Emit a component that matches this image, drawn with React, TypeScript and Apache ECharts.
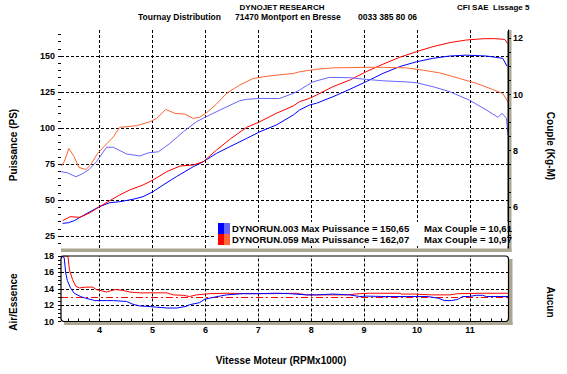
import React, { useEffect, useRef } from "react";
import * as echarts from "echarts";

// ---------- DATA ----------
const rpmP003 = [3.3, 3.41, 3.53, 3.63, 3.82, 4.0, 4.19, 4.38, 4.63, 4.82, 5.01, 5.2, 5.45, 5.77, 5.96, 6.21, 6.46, 6.78, 7.03, 7.34, 7.66, 7.78, 7.97, 8.1, 8.41, 8.73, 9.04, 9.36, 9.67, 9.99, 10.3, 10.62, 10.93, 11.31, 11.62, 11.7];
const ps003 = [33.8, 34.2, 35.8, 38, 41.9, 45.4, 48.1, 48.8, 50.5, 52.3, 55.8, 60.4, 66.2, 73.1, 76.6, 82.4, 87, 92.8, 97.4, 102.1, 109, 112.5, 116, 117.2, 121.7, 126.9, 132.2, 138, 142.6, 146, 148.4, 150, 150.6, 150, 148.4, 143];

const rpmP059 = [3.3, 3.44, 3.63, 3.82, 4.0, 4.19, 4.38, 4.57, 4.82, 5.01, 5.27, 5.52, 5.77, 5.96, 6.21, 6.46, 6.78, 7.03, 7.34, 7.66, 7.78, 7.97, 8.1, 8.41, 8.73, 9.04, 9.36, 9.67, 9.99, 10.3, 10.62, 10.93, 11.25, 11.47, 11.66, 11.71];
const ps059 = [35.6, 38.4, 38, 41.2, 45.4, 49.5, 53.5, 57, 60.4, 63.9, 69.7, 73.6, 74.3, 76.6, 84.7, 92.1, 100.5, 104.4, 110.2, 115.3, 118.3, 120.6, 122.9, 128.7, 133.3, 139.1, 144.4, 149.1, 153, 156.5, 159.3, 161.1, 162, 162.07, 161.5, 158.8];

const rpmT003 = [3.27, 3.39, 3.55, 3.67, 3.8, 3.94, 4.13, 4.26, 4.51, 4.76, 4.92, 5.11, 5.33, 5.58, 5.83, 6.08, 6.4, 6.65, 6.78, 7.03, 7.4, 7.66, 7.78, 8.03, 8.34, 8.73, 9.04, 9.36, 9.8, 9.99, 10.3, 10.62, 10.99, 11.31, 11.53, 11.61, 11.69, 11.72];
const tq003 = [7.25, 7.21, 7.07, 7.17, 7.33, 7.6, 8.12, 8.12, 7.88, 7.81, 7.92, 7.96, 8.26, 8.67, 9.03, 9.27, 9.56, 9.78, 9.83, 9.86, 9.86, 10.04, 10.16, 10.45, 10.61, 10.6, 10.54, 10.49, 10.45, 10.42, 10.28, 10.1, 9.8, 9.45, 9.19, 9.33, 9.15, 8.55];

const rpmT059 = [3.27, 3.33, 3.42, 3.52, 3.61, 3.74, 3.83, 3.96, 4.08, 4.26, 4.38, 4.7, 4.95, 5.08, 5.25, 5.42, 5.61, 5.77, 5.89, 6.02, 6.21, 6.4, 6.65, 6.9, 7.09, 7.34, 7.66, 7.78, 8.1, 8.41, 9.04, 9.36, 9.8, 10.11, 10.43, 10.81, 11.12, 11.43, 11.62, 11.72];
const tq059 = [7.45, 7.6, 8.08, 7.78, 7.4, 7.33, 7.49, 7.9, 8.14, 8.49, 8.83, 8.89, 9.03, 9.15, 9.47, 9.33, 9.3, 9.15, 9.19, 9.35, 9.66, 10.04, 10.34, 10.57, 10.63, 10.69, 10.75, 10.81, 10.9, 10.95, 10.97, 10.97, 10.95, 10.87, 10.77, 10.57, 10.4, 10.18, 10.04, 9.74];

const rpmA003 = [3.27, 3.33, 3.36, 3.39, 3.45, 3.52, 3.64, 3.73, 3.86, 3.9, 4.13, 4.26, 4.51, 4.63, 4.76, 4.89, 5.08, 5.27, 5.46, 5.64, 5.7, 5.89, 5.98, 6.08, 6.27, 6.4, 6.71, 6.96, 7.34, 7.59, 7.91, 8.1, 8.41, 8.72, 8.92, 9.04, 9.4, 9.8, 10.2, 10.4, 10.52, 10.65, 10.77, 10.86, 10.99, 11.12, 11.24, 11.31, 11.72];
const afr003 = [18, 17.8, 15.9, 15.0, 14.1, 13.45, 13.05, 12.85, 12.65, 12.55, 12.55, 12.55, 12.45, 12.1, 11.9, 11.85, 11.75, 11.65, 11.65, 11.85, 12.05, 12.3, 12.7, 12.85, 13.1, 13.25, 13.4, 13.4, 13.45, 13.4, 13.25, 13.25, 13.35, 13.25, 13.05, 13.1, 13.05, 13.05, 13.05, 12.85, 12.55, 12.55, 12.7, 13.05, 13.05, 13.2, 13.2, 13.05, 13.05];

const rpmA059 = [3.27, 3.4, 3.43, 3.49, 3.55, 3.62, 3.74, 3.87, 3.94, 4.13, 4.29, 4.44, 4.57, 4.76, 4.95, 5.27, 5.39, 5.58, 5.7, 5.83, 6.08, 6.4, 6.84, 7.22, 7.72, 7.91, 8.35, 8.66, 8.92, 9.1, 9.3, 9.68, 9.71, 9.96, 10.27, 10.62, 10.77, 11.17, 11.72];
const afr059 = [18, 18, 16.3, 15.1, 14.3, 14.1, 14.2, 14.2, 13.9, 13.6, 13.9, 13.8, 13.6, 13.5, 13.5, 13.5, 13.25, 13.2, 13.05, 13.25, 13.4, 13.45, 13.4, 13.4, 13.45, 13.25, 13.25, 13.25, 13.4, 13.45, 13.45, 13.45, 13.35, 13.35, 13.25, 13.25, 13.4, 13.45, 13.45];

const afrTarget = 13;
const rpmGrid = [4, 5, 6, 7, 8, 9, 10, 11];
const psGrid = [25, 50, 75, 100, 125, 150];
const afrGrid = [12, 14, 16];

const runNames = ["DYNORUN.003", "DYNORUN.059"];
const maxPower = ["150,65", "162,07"];
const maxTorque = ["10,61", "10,97"];

const headerTitle = "DYNOJET RESEARCH";
const headerLine2 = ["Tournay Distribution", "71470 Montport en Bresse", "0033 385 80 06"];
const headerRight = "CFI SAE  Lissage 5";

// ---------- STYLE ----------
const FONT = '"Liberation Sans", Arial, sans-serif';
const BLUE = "#0000ff";
const LBLUE = "#6666ff";
const RED = "#ff0000";
const ORANGE = "#ff6633";
const GRAY = "#aba792";

const pairs = (xs: number[], ys: number[]) => xs.map((x, i) => [x, ys[i]]);
const isStep = (v: number, step: number) => {
  const r = Math.round(v / step) * step;
  return Math.abs(v - r) < 1e-6;
};

const dashed = { color: "#000", width: 1, type: [3, 2] as number[] };

export default function App() {
  const ref = useRef<HTMLDivElement>(null);
  useEffect(() => {
    if (!ref.current) return;
    const chart = echarts.init(ref.current, undefined, { renderer: "svg" });
    const labelStyle = { color: "#000", fontFamily: FONT, fontWeight: "bold" as const, fontSize: 9 };
    const txt = (text: string, x: number, y: number, size: number, align = "left", rotation = 0) => ({
      type: "text",
      x,
      y,
      rotation,
      z: 20,
      style: { text, font: `bold ${size}px ${FONT}`, fill: "#000", align, verticalAlign: "middle" },
    });

    const option: any = {
      animation: false,
      backgroundColor: "#fff",
      grid: [
        { left: 61, top: 30, width: 447, height: 218 },
        { left: 61, top: 256, width: 447, height: 65.5 },
      ],
      xAxis: [
        { type: "value", gridIndex: 0, min: 3.27, max: 11.72, show: false, splitLine: { show: false } },
        {
          type: "value",
          gridIndex: 1,
          min: 3.27,
          max: 11.72,
          minInterval: 0.2,
          maxInterval: 0.2,
          axisLine: { show: true, lineStyle: { color: "rgba(0,0,0,0)" } },
          axisTick: { show: true, inside: true, length: 3, lineStyle: { color: "#000" } },
          axisLabel: {
            ...labelStyle,
            margin: 4,
            showMinLabel: false,
            showMaxLabel: false,
            formatter: (v: number) => (isStep(v, 1) ? String(Math.round(v)) : ""),
          },
          splitLine: { show: false },
        },
      ],
      yAxis: [
        {
          type: "value",
          gridIndex: 0,
          min: 16.67,
          max: 168.06,
          minInterval: 5,
          maxInterval: 5,
          axisLine: { show: true, lineStyle: { color: "rgba(0,0,0,0)" } },
          axisTick: { show: true, length: 3, lineStyle: { color: "#000" } },
          axisLabel: {
            ...labelStyle,
            margin: 6,
            showMinLabel: false,
            showMaxLabel: false,
            formatter: (v: number) => (isStep(v, 25) ? String(Math.round(v)) : ""),
          },
          splitLine: { show: false },
        },
        {
          type: "value",
          gridIndex: 0,
          position: "right",
          min: 4.53,
          max: 12.3,
          minInterval: 0.5,
          maxInterval: 0.5,
          axisLine: { show: true, lineStyle: { color: "#000", width: 1 } },
          axisTick: { show: true, length: 3, lineStyle: { color: "#000" } },
          axisLabel: {
            ...labelStyle,
            margin: 5,
            showMinLabel: false,
            showMaxLabel: false,
            formatter: (v: number) => (isStep(v, 2) ? String(Math.round(v)) : ""),
          },
          splitLine: { show: false },
        },
        {
          type: "value",
          gridIndex: 1,
          min: 10,
          max: 18,
          interval: 0.5,
          axisLine: { show: true, lineStyle: { color: "rgba(0,0,0,0)" } },
          axisTick: { show: true, length: 3, lineStyle: { color: "#000" } },
          axisLabel: {
            ...labelStyle,
            margin: 7,
            formatter: (v: number) => (isStep(v, 2) ? String(Math.round(v)) : ""),
          },
          splitLine: { show: false },
        },
      ],
      series: [
        {
          type: "line",
          name: "Puissance 003",
          xAxisIndex: 0,
          yAxisIndex: 0,
          data: pairs(rpmP003, ps003),
          showSymbol: false,
          symbol: "none",
          lineStyle: { color: BLUE, width: 1 },
          z: 3,
          markLine: {
            z: 1,
            silent: true,
            symbol: ["none", "none"],
            label: { show: false },
            lineStyle: dashed,
            data: [...psGrid.map((v) => ({ yAxis: v })), ...rpmGrid.map((v) => ({ xAxis: v }))],
          },
        },
        {
          type: "line",
          name: "Puissance 059",
          xAxisIndex: 0,
          yAxisIndex: 0,
          data: pairs(rpmP059, ps059),
          symbol: "none",
          lineStyle: { color: RED, width: 1 },
          z: 3,
        },
        {
          type: "line",
          name: "Couple 003",
          xAxisIndex: 0,
          yAxisIndex: 1,
          data: pairs(rpmT003, tq003),
          symbol: "none",
          lineStyle: { color: LBLUE, width: 1 },
          z: 3,
        },
        {
          type: "line",
          name: "Couple 059",
          xAxisIndex: 0,
          yAxisIndex: 1,
          data: pairs(rpmT059, tq059),
          symbol: "none",
          lineStyle: { color: ORANGE, width: 1 },
          z: 3,
        },
        {
          type: "line",
          name: "AFR 003",
          xAxisIndex: 1,
          yAxisIndex: 2,
          data: pairs(rpmA003, afr003),
          symbol: "none",
          lineStyle: { color: BLUE, width: 1 },
          z: 4,
          markLine: {
            z: 1,
            silent: true,
            symbol: ["none", "none"],
            label: { show: false },
            lineStyle: dashed,
            data: [...afrGrid.map((v) => ({ yAxis: v })), ...rpmGrid.map((v) => ({ xAxis: v }))],
          },
        },
        {
          type: "line",
          name: "AFR 059",
          xAxisIndex: 1,
          yAxisIndex: 2,
          data: pairs(rpmA059, afr059),
          symbol: "none",
          lineStyle: { color: RED, width: 1 },
          z: 3,
          markLine: {
            z: 2,
            silent: true,
            symbol: ["none", "none"],
            label: { show: false },
            lineStyle: { color: RED, width: 1, type: [7, 3, 2, 3] },
            data: [{ yAxis: afrTarget }],
          },
        },
      ],
      graphic: [
        // panel frames
        { type: "rect", z: 0, shape: { x: 508.5, y: 30, width: 3, height: 222 }, style: { fill: GRAY } },
        { type: "rect", z: 0, shape: { x: 61, y: 248.5, width: 450.5, height: 3.5 }, style: { fill: GRAY } },
        { type: "line", z: 5, shape: { x1: 508, y1: 31, x2: 508, y2: 248.5 }, style: { stroke: "#000", lineWidth: 1 } },
        { type: "rect", z: 0, shape: { x: 509, y: 259, width: 3.5, height: 66 }, style: { fill: GRAY } },
        { type: "rect", z: 0, shape: { x: 64, y: 321.5, width: 448.5, height: 3.5 }, style: { fill: GRAY } },
        { type: "rect", z: 5, shape: { x: 61, y: 256, width: 447.5, height: 65.5, r: 3 }, style: { fill: "none", stroke: "#000", lineWidth: 1.2 } },
        // header
        txt(headerTitle, 282, 7, 8, "center"),
        txt(headerRight, 457, 7, 8, "left"),
        txt(headerLine2[0], 138, 17, 8.5, "left"),
        txt(headerLine2[1], 235, 17, 8.5, "left"),
        txt(headerLine2[2], 358, 17, 8.5, "left"),
        // axis titles
        txt("Puissance (PS)", 13, 145, 10, "center", Math.PI / 2),
        txt("Couple (Kg-M)", 550, 146, 10, "center", -Math.PI / 2),
        txt("Air/Essence", 13, 302, 10, "center", Math.PI / 2),
        txt("Aucun", 550, 302, 10, "center", -Math.PI / 2),
        txt("Vitesse Moteur (RPMx1000)", 281, 360, 10, "center"),
        // legend
        { type: "rect", z: 10, shape: { x: 216, y: 222, width: 291.5, height: 24 }, style: { fill: "#fff" } },
        { type: "rect", z: 11, shape: { x: 218, y: 223, width: 6, height: 11 }, style: { fill: BLUE } },
        { type: "rect", z: 11, shape: { x: 224, y: 223, width: 6, height: 11 }, style: { fill: LBLUE } },
        { type: "rect", z: 11, shape: { x: 218, y: 234, width: 6, height: 11 }, style: { fill: RED } },
        { type: "rect", z: 11, shape: { x: 224, y: 234, width: 6, height: 11 }, style: { fill: ORANGE } },
        txt(`${runNames[0]} Max Puissance = ${maxPower[0]}`, 232, 228.5, 9.5, "left"),
        txt(`Max Couple = ${maxTorque[0]}`, 424, 228.5, 9.5, "left"),
        txt(`${runNames[1]} Max Puissance = ${maxPower[1]}`, 232, 239.5, 9.5, "left"),
        txt(`Max Couple = ${maxTorque[1]}`, 424, 239.5, 9.5, "left"),
      ],
    };
    chart.setOption(option);
    return () => chart.dispose();
  }, []);
  return <div ref={ref} style={{ position: "fixed", left: 0, top: 0, width: 567, height: 374 }} />;
}
